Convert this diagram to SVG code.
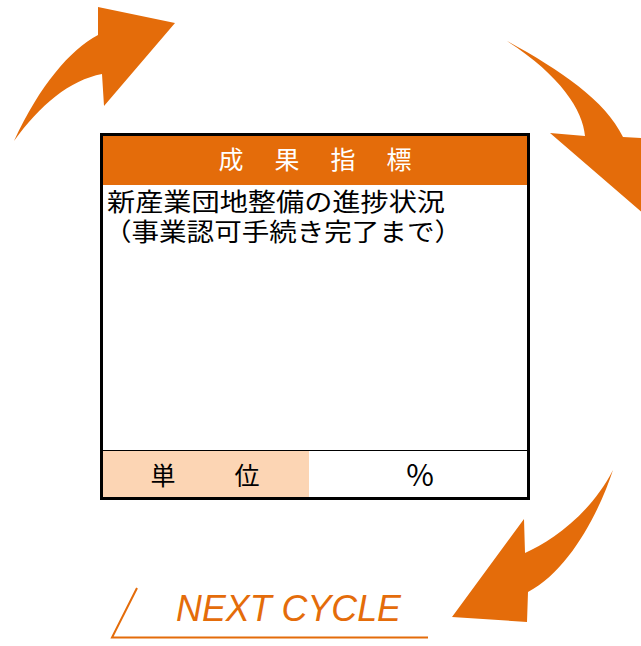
<svg xmlns="http://www.w3.org/2000/svg" width="641" height="646" viewBox="0 0 641 646">
<style>
.arrow{fill:#E46C0A;stroke:none}
.jp{font-family:"Noto Sans CJK JP","Noto Sans",sans-serif}
.hdr{fill:#FFFFFF;font-size:25px;text-anchor:middle}
.body{fill:#000000;font-size:25px}
.unit{fill:#000000;font-size:25px;text-anchor:middle}
</style>
<rect width="641" height="646" fill="#FFFFFF"/>
<g id="connectors">
  <path class="arrow" d="M14,141 C40,85 70,50 98,35 L98,7 L175,23 L104,106 L102,74 C70,80 40,105 14,141 Z"/>
  <path class="arrow" d="M507,41 C560,70 605,100 623,137 L660,139 L660,228 L550,133 L585,136 C583,110 560,75 507,41 Z"/>
  <path class="arrow" d="M613,470 C600,510 570,570 528,592 L527,622 L452,617 L524,519 L525,553 C550,542 590,515 613,470 Z"/>
</g>
<g id="indicator">
  <rect x="101.5" y="134.5" width="427" height="364" fill="#FFFFFF" stroke="none"/>
  <rect x="103" y="136" width="424" height="49" fill="#E46C0A"/>
  <rect x="103" y="451" width="206" height="46" fill="#FCD5B4"/>
  <line x1="103" y1="450.5" x2="527" y2="450.5" stroke="#000000" stroke-width="1"/>
  <rect x="101.5" y="134.5" width="427" height="364" fill="none" stroke="#000000" stroke-width="3"/>
  <text class="jp hdr" x="231" y="169">成</text>
  <text class="jp hdr" x="287" y="169">果</text>
  <text class="jp hdr" x="343" y="169">指</text>
  <text class="jp hdr" x="399" y="169">標</text>
  <text class="jp body" x="107" y="211" textLength="338" lengthAdjust="spacingAndGlyphs">新産業団地整備の進捗状況</text>
  <text class="jp body" x="104" y="241" textLength="358" lengthAdjust="spacingAndGlyphs">（事業認可手続き完了まで）</text>
  <text class="jp unit" x="163" y="485">単</text>
  <text class="jp unit" x="247" y="485">位</text>
  <text class="jp unit" x="420" y="486" style="font-size:30px">%</text>
</g>
<g id="next-cycle">
  <polyline points="137,588 112,637.5 428,637.5" fill="none" stroke="#E46C0A" stroke-width="2"/>
  <text x="176" y="621" font-family="Liberation Sans, Arial, sans-serif" font-style="italic" font-size="36" fill="#E46C0A" textLength="225" lengthAdjust="spacingAndGlyphs">NEXT CYCLE</text>
</g>
</svg>
